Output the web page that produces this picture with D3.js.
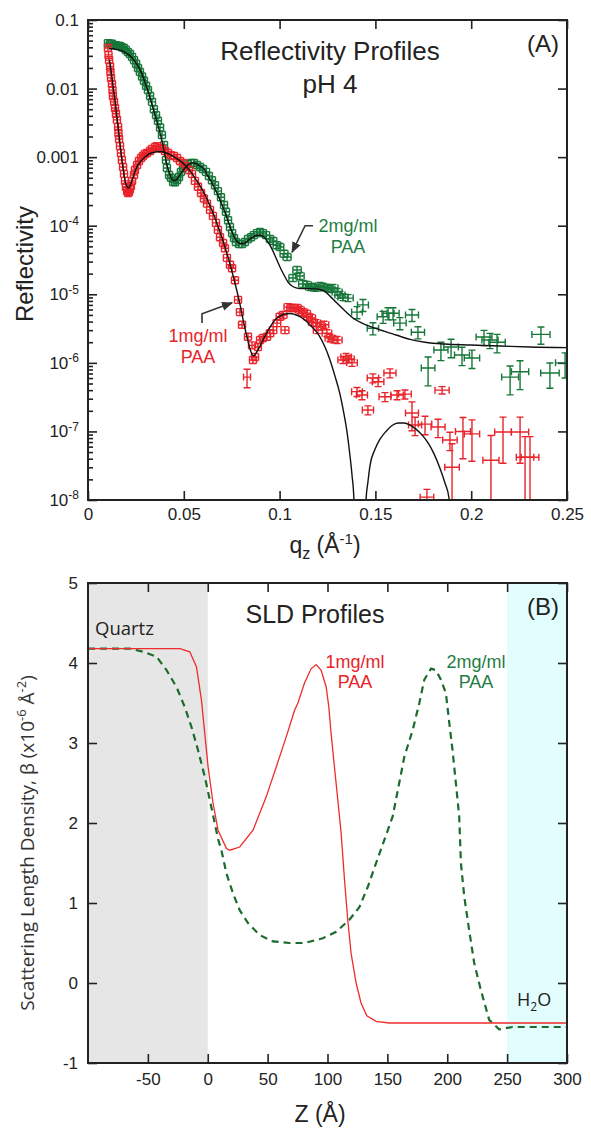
<!DOCTYPE html>
<html>
<head>
<meta charset="utf-8">
<script src="https://cdn.jsdelivr.net/npm/d3@7"></script>
<style>
  body { margin: 0; background: #fff; }
  svg text { font-family: "Liberation Sans", Arial, sans-serif; fill: #222; }
  .myriad { font-family: "Open Sans", "Noto Sans", sans-serif !important; }
</style>
</head>
<body>
<div id="chart"></div>
<script>
// ---------- (A) reflectivity data ----------
var qGreen = [0.0104,0.0115,0.0125,0.0136,0.0146,0.0157,0.0167,0.0177,0.0188,0.0198,
  0.0209,0.0219,0.0230,0.0240,0.0251,0.0261,0.0271,0.0282,0.0292,0.0303,
  0.0313,0.0324,0.0334,0.0344,0.0355,0.0365,0.0376,0.0386,0.0397,0.0407,
  0.0412,0.0423,0.0433,0.0444,0.0454,0.0465,0.0475,0.0485,0.0496,0.0506,
  0.0522,0.0538,0.0553,0.0569,0.0585,0.0600,0.0616,0.0631,0.0647,0.0663,
  0.0678,0.0694,0.0710,0.0720,0.0731,0.0741,0.0752,0.0762,0.0772,0.0788,
  0.0804,0.0819,0.0835,0.0851,0.0866,0.0882,0.0898,0.0913,0.0929,0.0950,
  0.0966,0.0986,0.1002,0.1023,0.1039,0.1070,0.1091,0.1106,0.1122,0.1143,
  0.1159,0.1174,0.1190,0.1211,0.1227,0.1247,0.1263,0.1279,0.1300,0.1315,
  0.1331,0.1357,0.1404,0.1435,0.1487,0.1540,0.1566,0.1592,0.1628,0.1691,
  0.1722,0.1775,0.1842,0.1895,0.1952,0.2004,0.2067,0.2098,0.2135,0.2203,
  0.2255,0.2364,0.2411,0.2490];
var rGreen = [4.6e-2,4.5e-2,4.5e-2,4.3e-2,4.3e-2,4.2e-2,4.2e-2,4.0e-2,3.9e-2,3.65e-2,
  3.4e-2,3.2e-2,2.9e-2,2.6e-2,2.3e-2,2.0e-2,1.75e-2,1.5e-2,1.3e-2,1.1e-2,
  9.5e-3,7.8e-3,6.4e-3,5.0e-3,4.1e-3,3.4e-3,2.7e-3,2.1e-3,1.5e-3,9.1e-4,
  6.95e-4,5.5e-4,5.0e-4,4.34e-4,4.3e-4,4.64e-4,5.13e-4,6.07e-4,6.95e-4,7.4e-4,
  7.94e-4,8.2e-4,8.2e-4,7.7e-4,7.2e-4,6.7e-4,6.1e-4,5.3e-4,4.6e-4,3.9e-4,
  3.2e-4,2.6e-4,2.0e-4,1.6e-4,1.2e-4,9.6e-5,7.8e-5,6.6e-5,5.8e-5,5.4e-5,
  5.4e-5,5.8e-5,6.4e-5,6.8e-5,7.3e-5,7.8e-5,8.1e-5,7.8e-5,7.3e-5,6.4e-5,
  6.0e-5,5.2e-5,4.9e-5,3.9e-5,3.5e-5,1.73e-5,2.26e-5,1.85e-5,1.41e-5,1.37e-5,
  1.28e-5,1.28e-5,1.24e-5,1.32e-5,1.28e-5,1.24e-5,1.19e-5,1.24e-5,1.08e-5,9.8e-6,
  9.1e-6,8.8e-6,5.5e-6,7.0e-6,3.2e-6,4.7e-6,5.3e-6,5.3e-6,3.8e-6,5.0e-6,
  2.8e-6,8.4e-7,1.54e-6,1.70e-6,1.30e-6,1.18e-6,2.38e-6,2.15e-6,2.0e-6,6.2e-7,
  7.4e-7,2.6e-6,7.1e-7,1.0e-6];
// relative error of R
var errGreen = [0.05,0.05,0.05,0.05,0.05,0.05,0.05,0.05,0.05,0.05,
  0.05,0.05,0.05,0.05,0.05,0.05,0.05,0.05,0.05,0.05,
  0.05,0.05,0.05,0.05,0.05,0.05,0.05,0.05,0.05,0.05,
  0.05,0.05,0.05,0.05,0.05,0.05,0.05,0.05,0.05,0.05,
  0.05,0.05,0.05,0.05,0.05,0.05,0.05,0.05,0.05,0.05,
  0.05,0.05,0.05,0.05,0.05,0.05,0.05,0.05,0.05,0.05,
  0.08,0.08,0.08,0.08,0.08,0.08,0.08,0.08,0.08,0.08,
  0.08,0.08,0.08,0.08,0.08,0.08,0.08,0.08,0.08,0.08,
  0.08,0.08,0.08,0.08,0.08,0.08,0.08,0.08,0.08,0.08,
  0.08,0.08,0.2,0.2,0.2,0.2,0.2,0.2,0.2,0.2,
  0.2,0.45,0.3,0.3,0.3,0.3,0.25,0.25,0.3,0.45,
  0.45,0.28,0.4,0.4];

var qRed = [0.0104,0.0107,0.0110,0.0115,0.0117,0.0120,0.0125,0.0128,0.0130,0.0136,
  0.0141,0.0146,0.0151,0.0157,0.0159,0.0162,0.0167,0.0172,0.0177,0.0183,
  0.0188,0.0193,0.0198,0.0204,0.0209,0.0214,0.0219,0.0224,0.0230,0.0240,
  0.0245,0.0256,0.0266,0.0277,0.0287,0.0297,0.0308,0.0324,0.0334,0.0350,
  0.0360,0.0376,0.0386,0.0402,0.0418,0.0433,0.0449,0.0465,0.0480,0.0496,
  0.0511,0.0527,0.0543,0.0558,0.0574,0.0590,0.0605,0.0621,0.0637,0.0652,
  0.0668,0.0678,0.0689,0.0705,0.0715,0.0725,0.0741,0.0752,0.0767,0.0783,
  0.0793,0.0804,0.0830,0.0835,0.0856,0.0861,0.0872,0.0887,0.0898,0.0913,
  0.0934,0.0950,0.0966,0.0986,0.1002,0.1018,0.1028,0.1044,0.1059,0.1075,
  0.1091,0.1106,0.1122,0.1138,0.1148,0.1164,0.1174,0.1190,0.1200,0.1216,
  0.1232,0.1247,0.1263,0.1279,0.1300,0.1331,0.1347,0.1362,0.1378,0.1404,
  0.1430,0.1461,0.1487,0.1514,0.1550,0.1576,0.1613,0.1654,0.1691,0.1707,
  0.1759,0.1769,0.1827,0.1848,0.1889,0.1900,0.1957,0.2004,0.2103,0.2166,
  0.2255,0.2281,0.2307];
var rRed = [3.9e-2,3.1e-2,2.6e-2,2.1e-2,1.75e-2,1.43e-2,1.17e-2,9.5e-3,7.8e-3,6.4e-3,
  5.2e-3,4.3e-3,3.5e-3,2.75e-3,2.25e-3,1.84e-3,1.45e-3,1.15e-3,9.1e-4,7.2e-4,
  5.7e-4,4.5e-4,3.7e-4,3.2e-4,3.0e-4,3.1e-4,3.4e-4,3.8e-4,4.5e-4,5.5e-4,
  6.5e-4,7.7e-4,8.8e-4,9.7e-4,1.04e-3,1.11e-3,1.15e-3,1.23e-3,1.32e-3,1.41e-3,
  1.45e-3,1.36e-3,1.32e-3,1.23e-3,1.15e-3,1.07e-3,1.04e-3,9.7e-4,8.8e-4,8.2e-4,
  7.4e-4,6.5e-4,5.7e-4,4.5e-4,3.7e-4,3.0e-4,2.5e-4,2.1e-4,1.7e-4,1.39e-4,
  1.1e-4,8.7e-5,6.8e-5,5.6e-5,4.7e-5,3.4e-5,2.7e-5,2.4e-5,1.6e-5,8.3e-6,
  5.5e-6,3.6e-6,6.2e-7,2.4e-6,1.8e-6,1.1e-6,1.22e-6,1.7e-6,2.15e-6,2.3e-6,
  2.4e-6,2.7e-6,3.0e-6,3.8e-6,4.7e-6,5.0e-6,3.0e-6,6.5e-6,6.3e-6,6.3e-6,
  6.3e-6,5.9e-6,5.5e-6,5.2e-6,4.7e-6,4.5e-6,3.9e-6,3.8e-6,3.0e-6,3.4e-6,
  3.6e-6,2.7e-6,2.3e-6,2.2e-6,2.15e-6,1.1e-6,1.22e-6,1.14e-6,1.0e-6,3.8e-7,
  3.4e-7,2.05e-7,6.0e-7,5.3e-7,3.2e-7,7.1e-7,3.4e-7,3.5e-7,1.86e-7,1.24e-7,
  1.28e-7,1.1e-8,1.16e-7,4.0e-7,7.5e-8,3.0e-8,1.0e-7,9.2e-8,3.8e-8,9.8e-8,
  9.8e-8,4.2e-8,4.2e-8];
var errRed = [0.06,0.06,0.06,0.06,0.06,0.06,0.06,0.06,0.06,0.06,
  0.06,0.06,0.06,0.06,0.06,0.06,0.06,0.06,0.06,0.06,
  0.06,0.06,0.06,0.06,0.06,0.06,0.06,0.06,0.06,0.06,
  0.06,0.06,0.06,0.06,0.06,0.06,0.06,0.06,0.06,0.06,
  0.06,0.06,0.06,0.06,0.06,0.06,0.06,0.06,0.06,0.06,
  0.06,0.06,0.06,0.06,0.06,0.06,0.06,0.06,0.06,0.06,
  0.06,0.06,0.06,0.06,0.06,0.06,0.06,0.06,0.06,0.06,
  0.06,0.06,0.3,0.1,0.1,0.1,0.1,0.1,0.1,0.1,
  0.1,0.1,0.1,0.1,0.1,0.1,0.1,0.1,0.1,0.1,
  0.1,0.1,0.1,0.1,0.1,0.1,0.1,0.1,0.1,0.1,
  0.1,0.1,0.1,0.1,0.1,0.1,0.1,0.1,0.1,0.15,
  0.15,0.15,0.15,0.15,0.15,0.15,0.15,0.15,0.45,0.3,
  0.3,0.3,0.3,0.12,0.3,1.2,0.6,0.6,1.3,0.65,
  0.65,1.0,1.0];
var dqRel = 0.02; // q resolution

// model fits (black lines)
var fitGreenQ = [0.0110,0.0130,0.0151,0.0172,0.0193,0.0214,0.0235,0.0256,0.0277,0.0297,
  0.0318,0.0339,0.0360,0.0381,0.0397,0.0412,0.0423,0.0433,0.0444,0.0454,
  0.0465,0.0475,0.0491,0.0506,0.0522,0.0538,0.0553,0.0569,0.0585,0.0605,
  0.0626,0.0647,0.0668,0.0689,0.0710,0.0731,0.0752,0.0772,0.0793,0.0814,
  0.0835,0.0856,0.0877,0.0898,0.0919,0.0939,0.0960,0.0981,0.1002,0.1023,
  0.1044,0.1065,0.1086,0.1106,0.1138,0.1169,0.1200,0.1232,0.1263,0.1294,
  0.1326,0.1357,0.1388,0.1430,0.1482,0.1545,0.1608,0.1681,0.1759,0.1863,
  0.1994,0.2150,0.2307,0.2500];
var fitGreenR = [3.8e-2,3.8e-2,3.7e-2,3.6e-2,3.36e-2,3.1e-2,2.7e-2,2.24e-2,1.75e-2,1.25e-2,
  8.3e-3,5.2e-3,3.25e-3,1.97e-3,1.23e-3,7.7e-4,6.1e-4,5.1e-4,4.6e-4,4.56e-4,
  4.8e-4,5.3e-4,6.1e-4,6.95e-4,7.7e-4,8.1e-4,8.2e-4,7.9e-4,7.4e-4,6.7e-4,
  5.3e-4,4.2e-4,3.2e-4,2.37e-4,1.7e-4,1.17e-4,8.1e-5,6.2e-5,5.5e-5,5.5e-5,
  6.1e-5,6.7e-5,7.2e-5,7.3e-5,6.8e-5,5.8e-5,4.6e-5,3.4e-5,2.5e-5,1.91e-5,
  1.51e-5,1.32e-5,1.24e-5,1.21e-5,1.21e-5,1.21e-5,1.19e-5,1.12e-5,9.4e-6,7.7e-6,
  6.3e-6,5.2e-6,4.4e-6,3.8e-6,3.33e-6,2.9e-6,2.55e-6,2.2e-6,2.0e-6,1.88e-6,
  1.82e-6,1.76e-6,1.7e-6,1.67e-6];
var fitRedQ = [0.0112,0.0120,0.0130,0.0141,0.0151,0.0162,0.0172,0.0183,0.0193,0.0204,
  0.0211,0.0219,0.0230,0.0245,0.0261,0.0282,0.0303,0.0324,0.0350,0.0376,
  0.0402,0.0428,0.0454,0.0480,0.0506,0.0532,0.0558,0.0585,0.0611,0.0637,
  0.0663,0.0689,0.0715,0.0741,0.0767,0.0793,0.0814,0.0835,0.0851,0.0864,
  0.0877,0.0898,0.0924,0.0950,0.0976,0.1002,0.1028,0.1054,0.1080,0.1106,
  0.1133,0.1159,0.1185,0.1211,0.1237,0.1263,0.1289,0.1315,0.1336,0.1352,
  0.1367,0.1378,0.1388,0.1394,0.1440,0.1451,0.1461,0.1472,0.1498,0.1524,
  0.1555,0.1587,0.1618,0.1649,0.1681,0.1712,0.1743,0.1775,0.1806,0.1837,
  0.1863,0.1884,0.1895];
var fitRedR = [2.6e-2,1.87e-2,1.13e-2,6.8e-3,3.85e-3,2.1e-3,1.19e-3,6.95e-4,4.6e-4,3.7e-4,
  3.55e-4,3.8e-4,4.6e-4,6.1e-4,7.7e-4,9.1e-4,1.04e-3,1.13e-3,1.19e-3,1.21e-3,
  1.17e-3,1.09e-3,9.9e-4,8.9e-4,7.7e-4,6.3e-4,5.0e-4,3.8e-4,2.8e-4,1.94e-4,
  1.3e-4,8.1e-5,4.9e-5,2.77e-5,1.46e-5,7.2e-6,3.7e-6,2.08e-6,1.44e-6,1.26e-6,
  1.39e-6,1.76e-6,2.47e-6,3.33e-6,4.2e-6,4.8e-6,5.15e-6,5.25e-6,5.07e-6,4.74e-6,
  4.2e-6,3.56e-6,3.0e-6,2.38e-6,1.7e-6,1.1e-6,6.4e-7,3.5e-7,1.8e-7,9.8e-8,
  4.5e-8,2.3e-8,1.0e-8,1e-10,1e-10,1.0e-8,1.83e-8,3.2e-8,5.5e-8,7.7e-8,
  1.0e-7,1.22e-7,1.33e-7,1.33e-7,1.24e-7,1.08e-7,8.9e-8,6.8e-8,4.7e-8,2.9e-8,
  1.77e-8,1.07e-8,1e-10];

var qTicks = [0, 0.05, 0.1, 0.15, 0.2, 0.25];
var rDecades = [1e-8, 1e-7, 1e-6, 1e-5, 1e-4, 1e-3, 1e-2, 1e-1];

// ---------- (B) SLD profiles ----------
var sldZRed = [-100,-23.3,-15,-9.4,-5.3,-2.5,0.3,4.4,8.6,15.6,18.3,26.7,37.8,48.9,57.2,65.6,72.5,75.3,
  80.8,86.4,90.6,94.7,98.9,101.1,103,105.8,108.6,111.4,114.2,116.9,119.7,123.9,128,132.8,140.6,151.7,300];
var sldRed = [4.18,4.18,4.14,3.95,3.54,3.12,2.70,2.25,1.91,1.68,1.66,1.70,1.91,2.33,2.70,3.08,3.41,3.50,
  3.75,3.93,3.98,3.91,3.70,3.45,3.12,2.70,2.29,1.87,1.29,0.79,0.37,0.0,-0.25,-0.41,-0.48,-0.50,-0.50];
var sldZGreen = [-100,-65,-53.9,-42.8,-34.4,-26.1,-19.2,-13.6,-8.1,-2.5,1.7,5.8,8.6,11.4,15.6,21.1,26.7,
  33.6,43.3,54.4,68.3,80.8,96.1,107.2,118.3,126.7,133.6,140.6,147.5,154.4,164.2,171.1,176.7,180.8,186.4,
  190.6,194.7,198.9,201.7,204.4,207.2,210,211.4,214.2,218.3,222.5,228.1,235,243.3,254.4,300];
var sldGreen = [4.18,4.18,4.14,4.08,3.91,3.70,3.45,3.20,2.91,2.58,2.29,2.0,1.80,1.66,1.37,1.12,0.91,
  0.75,0.60,0.52,0.50,0.50,0.56,0.64,0.79,0.95,1.20,1.50,1.79,2.08,2.83,3.16,3.50,3.79,3.93,
  3.91,3.79,3.62,3.25,2.91,2.50,2.08,1.50,1.08,0.66,0.25,-0.09,-0.46,-0.58,-0.55,-0.55];
var quartzZ = [-100, 0];
var waterZ = [250, 300];
var zTicks = [-50, 0, 50, 100, 150, 200, 250, 300];
var sldTicks = [-1, 0, 1, 2, 3, 4, 5];

var RED = "#e8232a", GREEN = "#17773a", GREEN_TXT = "#1f7d44";

// layout
var width = 479, height = 480;
var left = 88, topA = 20, topB = 583;

var svg = d3.select("#chart").append("svg")
  .attr("width", 591).attr("height", 1130);

// ================= panel A =================
var gA = svg.append("g").attr("transform", "translate(" + left + "," + topA + ")");
var x = d3.scaleLinear().domain([0, 0.25]).range([0, width]);
var y = d3.scaleLog().domain([1e-8, 0.1]).range([height, 0]);

gA.append("clipPath").attr("id", "clipA")
  .append("rect").attr("width", width).attr("height", height);

// axes (ticks pointing inward)
var axL = gA.append("g").call(d3.axisLeft(y).tickValues(rDecades).tickSize(-9).tickSizeOuter(0)
  .tickPadding(9).tickFormat(function () { return ""; }));
axL.selectAll(".tick text").each(function (d) {
  var t = d3.select(this).style("font-size", "17px").attr("fill", "#222");
  var e = Math.round(Math.log10(d));
  if (e >= -3) {
    t.text(e === -1 ? "0.1" : e === -2 ? "0.01" : "0.001");
  } else {
    t.text("10");
    t.append("tspan").attr("dy", "-0.55em").style("font-size", "12px").text("-" + (-e));
  }
});
gA.append("g").call(d3.axisLeft(y)
  .tickValues(y.ticks().filter(function (d) { return rDecades.indexOf(d) < 0; }))
  .tickSize(-5).tickSizeOuter(0).tickFormat(""));
gA.append("g").attr("transform", "translate(" + width + ",0)")
  .call(d3.axisRight(y).tickValues(rDecades).tickSize(-9).tickSizeOuter(0).tickFormat(""));
var axB = gA.append("g").attr("transform", "translate(0," + height + ")")
  .call(d3.axisBottom(x).tickValues(qTicks).tickSize(-9).tickSizeOuter(0).tickPadding(8)
    .tickFormat(function (d) { return d === 0 ? "0" : String(d); }));
axB.selectAll("text").style("font-size", "17px").attr("fill", "#222");
gA.append("g").call(d3.axisTop(x).tickValues(qTicks).tickSize(-9).tickSizeOuter(0).tickFormat(""));
gA.selectAll(".domain").remove();
gA.selectAll(".tick line").attr("stroke", "#222").attr("stroke-width", 1.6);

// error-bar crosses
function drawPoints(qs, rs, errs, color) {
  var pts = qs.map(function (q, i) { return { q: q, r: rs[i], e: errs[i] }; });
  gA.append("g").attr("clip-path", "url(#clipA)")
    .selectAll("path").data(pts).enter().append("path")
    .attr("d", function (d) {
      var cx = x(d.q), cy = y(d.r), c = 3.5;
      var hw = Math.max(x(d.q * (1 + dqRel)) - cx, c);
      var up = Math.max(cy - y(d.r * (1 + d.e)), c);
      var lo = d.e >= 1 ? height + 20 - cy : Math.max(y(d.r * (1 - d.e)) - cy, c);
      return "M" + (cx - hw) + "," + cy + "H" + (cx + hw) +
        "M" + cx + "," + (cy - up) + "V" + (cy + lo) +
        "M" + (cx - c) + "," + (cy - up) + "H" + (cx + c) +
        "M" + (cx - c) + "," + (cy + lo) + "H" + (cx + c) +
        "M" + (cx - hw) + "," + (cy - c) + "V" + (cy + c) +
        "M" + (cx + hw) + "," + (cy - c) + "V" + (cy + c);
    })
    .attr("fill", "none").attr("stroke", color).attr("stroke-width", 1.4);
}
drawPoints(qGreen, rGreen, errGreen, GREEN);
drawPoints(qRed, rRed, errRed, RED);

var fitLine = d3.line().x(function (d) { return x(d.q); }).y(function (d) { return y(d.r); })
  .curve(d3.curveMonotoneX);
var fits = [
  fitGreenQ.map(function (q, i) { return { q: q, r: fitGreenR[i] }; }),
  fitRedQ.map(function (q, i) { return { q: q, r: fitRedR[i] }; })
];
gA.append("g").attr("clip-path", "url(#clipA)").selectAll("path").data(fits).enter()
  .append("path").attr("d", fitLine)
  .attr("fill", "none").attr("stroke", "#111").attr("stroke-width", 1.4);

gA.append("rect").attr("width", width).attr("height", height)
  .attr("fill", "none").attr("stroke", "#222").attr("stroke-width", 2);

// annotations
svg.append("defs").append("marker").attr("id", "arrow")
  .attr("viewBox", "0 0 10 10").attr("refX", 9).attr("refY", 5)
  .attr("markerWidth", 7).attr("markerHeight", 7).attr("orient", "auto")
  .append("path").attr("d", "M0,1L10,5L0,9Z").attr("fill", "#333");
var arrowLine = d3.line().x(function (d) { return x(d[0]); }).y(function (d) { return y(d[1]); });
gA.append("path").attr("d", arrowLine([[0.1174, 1.0e-4], [0.1133, 1.0e-4], [0.1065, 4.1e-5]]))
  .attr("fill", "none").attr("stroke", "#333").attr("stroke-width", 1.6).attr("marker-end", "url(#arrow)");
gA.append("path").attr("d", arrowLine([[0.0595, 3.8e-6], [0.0595, 5.2e-6], [0.0752, 7.5e-6]]))
  .attr("fill", "none").attr("stroke", "#333").attr("stroke-width", 1.6).attr("marker-end", "url(#arrow)");

function label(g, tx, ty, lines, color, size, anchor, lh) {
  lines.forEach(function (s, i) {
    g.append("text").attr("x", tx).attr("y", ty + i * lh).attr("text-anchor", anchor || "middle")
      .style("font-size", size + "px").attr("fill", color).style("fill", color).text(s);
  });
}
label(svg, 330, 60, ["Reflectivity Profiles", "pH 4"], "#222", 26, "middle", 33);
label(svg, 559, 52, ["(A)"], "#222", 24, "end", 0);
label(svg, 348, 232, ["2mg/ml", "PAA"], GREEN_TXT, 18, "middle", 21);
label(svg, 198, 342, ["1mg/ml", "PAA"], RED, 18, "middle", 21);

svg.append("text").attr("transform", "translate(33,264) rotate(-90)")
  .attr("text-anchor", "middle").style("font-size", "24px").text("Reflectivity");
var xl = svg.append("text").attr("x", 325).attr("y", 553).attr("text-anchor", "middle")
  .style("font-size", "23px");
xl.append("tspan").text("q");
xl.append("tspan").attr("dy", 6).style("font-size", "16px").text("z");
xl.append("tspan").attr("dy", -6).text(" (Å");
xl.append("tspan").attr("dy", -9).style("font-size", "15px").text("-1");
xl.append("tspan").attr("dy", 9).text(")");

// ================= panel B =================
var gB = svg.append("g").attr("transform", "translate(" + left + "," + topB + ")");
var xb = d3.scaleLinear().domain([-100, 300]).range([0, width]);
var yb = d3.scaleLinear().domain([-1, 5]).range([height, 0]);

gB.append("rect").attr("x", xb(quartzZ[0])).attr("width", xb(quartzZ[1]) - xb(quartzZ[0]))
  .attr("height", height).attr("fill", "#e6e6e6");
gB.append("rect").attr("x", xb(waterZ[0])).attr("width", xb(waterZ[1]) - xb(waterZ[0]))
  .attr("height", height).attr("fill", "#e2fdfd");

var bl = gB.append("g").call(d3.axisLeft(yb).tickValues(sldTicks).tickSize(-9).tickSizeOuter(0).tickPadding(10)
  .tickFormat(function (d) { return d < 0 ? "-" + (-d) : String(d); }));
bl.selectAll("text").style("font-size", "17px").attr("fill", "#222");
gB.append("g").attr("transform", "translate(" + width + ",0)")
  .call(d3.axisRight(yb).tickValues(sldTicks).tickSize(-9).tickSizeOuter(0).tickFormat(""));
var bb = gB.append("g").attr("transform", "translate(0," + height + ")")
  .call(d3.axisBottom(xb).tickValues(zTicks).tickSize(-9).tickSizeOuter(0).tickPadding(10)
    .tickFormat(function (d) { return d < 0 ? "-" + (-d) : String(d); }));
bb.selectAll("text").style("font-size", "17px").attr("fill", "#222");
gB.append("g").call(d3.axisTop(xb).tickValues(zTicks).tickSize(-9).tickSizeOuter(0).tickFormat(""));
gB.selectAll(".domain").remove();
gB.selectAll(".tick line").attr("stroke", "#222").attr("stroke-width", 1.6);

var sldLine = d3.line().x(function (d) { return xb(d.z); }).y(function (d) { return yb(d.v); });
gB.append("path")
  .attr("d", sldLine(sldZGreen.map(function (z, i) { return { z: z, v: sldGreen[i] }; })))
  .attr("fill", "none").attr("stroke", "#1a6b2c").attr("stroke-width", 2.2)
  .attr("stroke-dasharray", "7,5");
gB.append("path")
  .attr("d", sldLine(sldZRed.map(function (z, i) { return { z: z, v: sldRed[i] }; })))
  .attr("fill", "none").attr("stroke", "#ef2b2b").attr("stroke-width", 1.3);

gB.append("rect").attr("width", width).attr("height", height)
  .attr("fill", "none").attr("stroke", "#222").attr("stroke-width", 2);

label(svg, 315, 623, ["SLD Profiles"], "#222", 25, "middle", 0);
label(svg, 559, 615, ["(B)"], "#222", 24, "end", 0);
label(svg, 355, 668, ["1mg/ml", "PAA"], RED, 18, "middle", 20);
label(svg, 476, 668, ["2mg/ml", "PAA"], GREEN_TXT, 18, "middle", 20);
svg.append("text").attr("class", "myriad").attr("x", 95).attr("y", 635)
  .style("font-size", "18.5px").text("Quartz");
var h2o = svg.append("text").attr("class", "myriad").attr("x", 517).attr("y", 1006)
  .style("font-size", "18px");
h2o.append("tspan").text("H");
h2o.append("tspan").attr("dy", 5).style("font-size", "12px").text("2");
h2o.append("tspan").attr("dy", -5).text("O");

var yl = svg.append("text").attr("class", "myriad").attr("transform", "translate(34,843) rotate(-90)")
  .attr("text-anchor", "middle").style("font-size", "19px").attr("fill", "#333").style("fill", "#333");
yl.append("tspan").text("Scattering Length Density, β (x10");
yl.append("tspan").attr("dy", -8).style("font-size", "13px").text("-6");
yl.append("tspan").attr("dy", 8).text(" Å");
yl.append("tspan").attr("dy", -8).style("font-size", "13px").text("-2");
yl.append("tspan").attr("dy", 8).text(")");

var zl = svg.append("text").attr("x", 320).attr("y", 1122).attr("text-anchor", "middle")
  .style("font-size", "23px").text("Z (Å)");
</script>
</body>
</html>
